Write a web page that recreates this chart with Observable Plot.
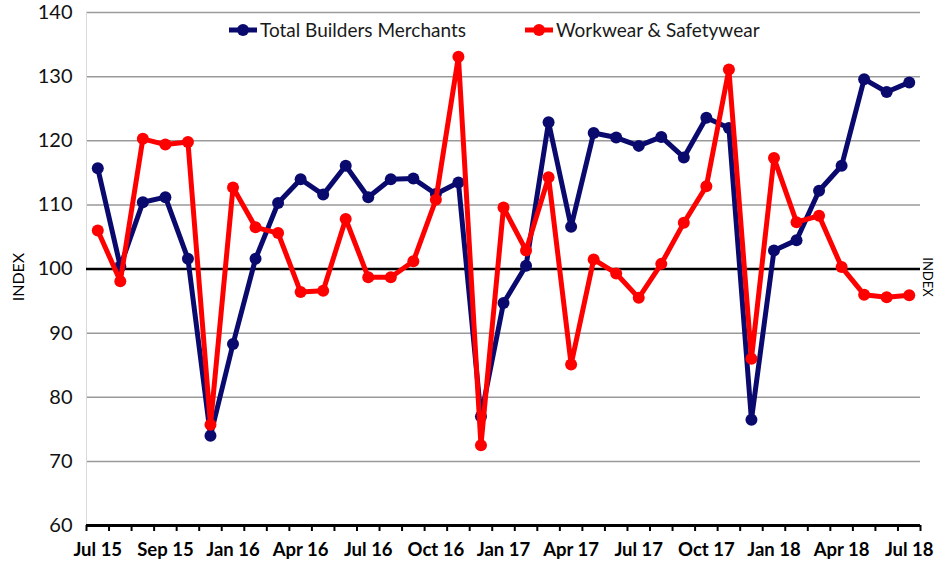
<!DOCTYPE html>
<html>
<head>
<meta charset="utf-8">
<script src="https://cdn.jsdelivr.net/npm/d3@7"></script>
<script src="https://cdn.jsdelivr.net/npm/@observablehq/plot@0.6"></script>
<style>
  html, body { margin: 0; padding: 0; background: #fff; }
  #wrap { position: relative; width: 935px; height: 565px; overflow: hidden; font-family: Lato, "Liberation Sans", sans-serif; }
  #legend { position: absolute; top: 18px; left: 228px; display: flex; align-items: center; font-size: 19px; color: #1a1a1a; white-space: nowrap; }
  #legend .item { display: flex; align-items: center; margin-right: 58px; }
  #legend svg { margin-right: 2px; }
  .ylab { position: absolute; font-size: 16px; color: #000; white-space: nowrap; line-height: 1; }
</style>
</head>
<body>
<div id="wrap"><div id="legend"></div></div>
<script>
const months = ["Jul 15","Aug 15","Sep 15","Oct 15","Nov 15","Dec 15","Jan 16","Feb 16","Mar 16","Apr 16","May 16","Jun 16","Jul 16","Aug 16","Sep 16","Oct 16","Nov 16","Dec 16","Jan 17","Feb 17","Mar 17","Apr 17","May 17","Jun 17","Jul 17","Aug 17","Sep 17","Oct 17","Nov 17","Dec 17","Jan 18","Feb 18","Mar 18","Apr 18","May 18","Jun 18","Jul 18"];
const builders = [115.7,100.4,110.4,111.2,101.6,74.0,88.3,101.6,110.3,114.0,111.6,116.1,111.2,114.0,114.1,111.7,113.5,77.0,94.7,100.5,122.9,106.6,121.2,120.5,119.2,120.6,117.4,123.6,122.0,76.5,102.9,104.5,112.2,116.1,129.6,127.6,129.1];
const workwear = [106.0,98.1,120.3,119.4,119.8,75.7,112.7,106.5,105.6,96.4,96.6,107.8,98.7,98.7,101.2,110.8,133.1,72.5,109.6,102.9,114.3,85.1,101.5,99.3,95.5,100.8,107.2,112.9,131.1,86.0,117.3,107.3,108.3,100.3,96.0,95.6,95.9];
const tickLabels = ["Jul 15","Sep 15","Jan 16","Apr 16","Jul 16","Oct 16","Jan 17","Apr 17","Jul 17","Oct 17","Jan 18","Apr 18","Jul 18"];
const yTicks = [60,70,80,90,100,110,120,130,140];
const seriesNames = ["Total Builders Merchants","Workwear & Safetywear"];
const seriesColors = ["#0a0a6e","#ff0000"];
const yTitle = "INDEX";
const baseline = 100;

const rows = months.map((m, i) => ({i, month: m, builders: builders[i], workwear: workwear[i]}));
const tickPos = tickLabels.map((_, k) => k * 3);
const boundaries = d3.range(months.length + 1).map(i => i - 0.5);

const chart = Plot.plot({
  width: 935,
  height: 565,
  marginLeft: 86,
  marginRight: 15,
  marginTop: 12,
  marginBottom: 40,
  style: {fontFamily: "Lato, 'Liberation Sans', sans-serif", background: "transparent", overflow: "visible"},
  x: {type: "linear", domain: [-0.5, months.length - 0.5], axis: null},
  y: {domain: [60, 140], axis: null},
  marks: [
    Plot.ruleY(yTicks.filter(v => v > 60), {stroke: "#9a9a9a", strokeWidth: 1.5}),
    Plot.ruleX([-0.5], {stroke: "#d9d9d9", strokeWidth: 1}),
    Plot.ruleY([baseline], {stroke: "#000", strokeWidth: 2.5}),
    Plot.axisY({ticks: yTicks, tickSize: 0, tickPadding: 14, fontSize: 20, color: "#111", label: null}),
    Plot.axisX({ticks: boundaries, tickSize: 6, tickFormat: () => "", label: null, strokeWidth: 2, color: "#000"}),
    Plot.axisX({ticks: tickPos, tickSize: 0, tickPadding: 17, tickFormat: (d) => tickLabels[d / 3], fontSize: 18.5, fontWeight: "bold", color: "#000", label: null}),
    Plot.ruleY([60], {stroke: "#000", strokeWidth: 3}),
    Plot.line(rows, {x: "i", y: "builders", stroke: seriesColors[0], strokeWidth: 5}),
    Plot.dot(rows, {x: "i", y: "builders", fill: seriesColors[0], r: 6}),
    Plot.line(rows, {x: "i", y: "workwear", stroke: seriesColors[1], strokeWidth: 5}),
    Plot.dot(rows, {x: "i", y: "workwear", fill: seriesColors[1], r: 6})
  ]
});
const wrap = document.getElementById("wrap");
wrap.prepend(chart);

const leftTitle = document.createElement("div");
leftTitle.className = "ylab";
leftTitle.textContent = yTitle;
leftTitle.style.left = "18px";
leftTitle.style.top = "277px";
leftTitle.style.transform = "translate(-50%,-50%) rotate(-90deg)";
wrap.appendChild(leftTitle);

const rightTitle = document.createElement("div");
rightTitle.className = "ylab";
rightTitle.textContent = yTitle;
rightTitle.style.fontSize = "13px";
rightTitle.style.left = "927px";
rightTitle.style.top = "277px";
rightTitle.style.transform = "translate(-50%,-50%) rotate(90deg)";
wrap.appendChild(rightTitle);

const legend = document.getElementById("legend");
seriesNames.forEach((name, k) => {
  const item = document.createElement("div");
  item.className = "item";
  item.innerHTML = `<svg width="30" height="14"><line x1="1" y1="7" x2="29" y2="7" stroke="${seriesColors[k]}" stroke-width="5"/><circle cx="15" cy="7" r="6" fill="${seriesColors[k]}"/></svg><span>${name}</span>`;
  legend.appendChild(item);
});
</script>
</body>
</html>
